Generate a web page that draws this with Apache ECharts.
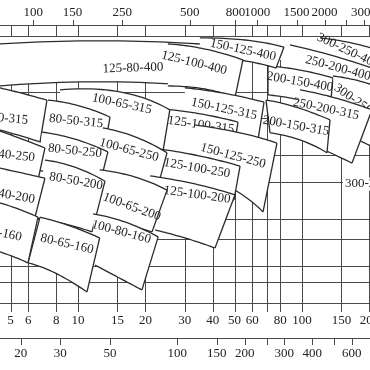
<!DOCTYPE html>
<html><head><meta charset="utf-8">
<script src="https://cdn.jsdelivr.net/npm/echarts@6/dist/echarts.min.js"></script>
<style>html,body{margin:0;padding:0;background:#fff}#c{width:370px;height:370px}</style>
</head><body><div id="c"></div>
<script>
// ---- axes data (flow in L/s, head in m) ----
const flowGrid   = [5,6,8,10,15,20,30,40,50,60,70,80,100,150,200];
const flowLabels = [5,6,8,10,15,20,30,40,50,60,80,100,150,200];
const headGrid   = [4,5,6,8,10,15,20,30,40];
const gpmTicks   = [100,150,250,500,800,1000,1500,2000,2500,3000];
const gpmLabels  = [100,150,250,500,800,1000,1500,2000,3000];
const m3hTicks   = [20,30,50,100,150,200,250,300,400,500,600];
const m3hLabels  = [20,30,50,100,150,200,300,400,600];
const GPM_PER_LS = 15.85;
const M3H_PER_LS = 3.6;

// ---- pump operating regions (draw order = array order) ----
const pumpNames = [
  '125-80-400','300-250-400','250-200-400','200-150-400','150-125-400','125-100-400',
  '300-250-315','250-200-315','200-150-315','150-125-315','125-100-315','100-65-315','80-50-315','65-40-315',
  '150-125-250','125-100-250','100-65-250','80-50-250','65-40-250',
  '125-100-200','100-65-200','80-50-200','65-40-200',
  '100-80-160','80-65-160','65-50-160'
];
// full-impeller curve: [left, middle, right] as [Q L/s, H m]
const topCurve = [
  [[2.97,65.3],[10.2,69.8],[35.0,67.5]],
  [[120.3,72.1],[181.5,66.8],[274,57.9]],
  [[88.4,66.8],[133.4,59.9],[211.8,51.4]],
  [[70.5,53.1],[98.0,50.8],[137.5,46.6]],
  [[35.0,72.1],[55.7,70.5],[83.1,65.3]],
  [[25.2,67.5],[36.9,63.9],[54.5,56.7]],
  [[137.5,47.6],[201.2,43.6],[303,36.6]],
  [[98.0,40.9],[140.4,37.5],[205.4,32.9]],
  [[69.1,36.6],[93.1,34.0],[133.4,29.5]],
  [[30.0,41.8],[43.9,39.6],[67.7,35.8]],
  [[21.0,33.6],[33.3,31.8],[51.8,28.8]],
  [[8.31,40.9],[15.4,40.0],[25.7,32.9]],
  [[7.35,36.6],[10.2,34.3],[13.9,30.4]],
  [[2.97,45.6],[4.49,41.8],[7.27,36.6]],
  [[33.3,27.9],[52.9,25.6],[77.3,22.9]],
  [[21.0,21.7],[33.3,20.1],[52.9,17.8]],
  [[12.9,27.0],[18.0,24.5],[24.97,20.6]],
  [[6.91,25.8],[9.69,23.9],[13.6,20.8]],
  [[2.97,30.1],[4.49,26.1],[7.12,21.7]],
  [[21.0,16.0],[33.3,14.65],[50.2,13.0]],
  [[12.5,17.1],[18.0,15.8],[24.97,13.7]],
  [[7.12,19.0],[9.69,17.6],[13.2,15.1]],
  [[2.97,19.0],[4.49,17.4],[7.12,15.6]],
  [[11.67,10.56],[16.2,9.68],[22.8,8.22]],
  [[6.77,10.2],[9.21,9.27],[12.5,8.13]],
  [[2.97,13.0],[4.49,11.9],[6.63,10.2]]
];
// trimmed-impeller curve: [left, middle, right]
const bottomCurve = [
  [[2.97,40.9],[10.2,44.6],[35.0,42.7]],
  [[120.3,45.6],[181.5,40.9],[274,36.6]],
  [[88.4,40.9],[147.8,36.6],[211.8,32.1]],
  [[70.5,38.7],[98.0,36.6],[133.4,32.9]],
  [[35.0,59.2],[52.9,56.7],[76.6,51.9]],
  [[25.2,42.7],[36.9,41.3],[50.2,37.5]],
  [[147.8,26.4],[223,21.2],[336,18.0]],
  [[88.4,25.0],[120.3,21.7],[167.2,18.4]],
  [[72.0,25.6],[98.0,23.7],[129.3,20.6]],
  [[30.0,26.4],[45.3,25.0],[63.6,23.7]],
  [[21.0,21.2],[33.3,19.9],[48.7,19.0]],
  [[8.31,25.0],[15.4,22.9],[24.0,21.2]],
  [[6.77,23.2],[9.40,21.2],[12.8,18.6]],
  [[2.97,29.5],[4.49,26.4],[6.77,23.2]],
  [[35.0,16.2],[50.2,13.7],[67.0,10.8]],
  [[22.1,14.5],[34.0,13.4],[49.7,12.3]],
  [[12.5,17.1],[17.1,15.3],[22.5,13.7]],
  [[6.63,17.1],[9.21,15.6],[12.5,14.5]],
  [[2.97,19.0],[4.49,17.1],[6.63,15.3]],
  [[22.1,8.87],[30.0,8.13],[40.9,7.29]],
  [[11.67,10.56],[15.4,9.68],[21.4,8.68]],
  [[6.43,10.1],[8.75,9.47],[11.55,8.68]],
  [[2.97,11.65],[4.49,10.56],[6.30,9.37]],
  [[11.9,6.05],[15.0,5.31],[19.3,4.61]],
  [[5.98,6.19],[7.90,5.55],[10.97,4.51]],
  [[2.97,7.95],[4.49,6.98],[5.98,6.19]]
];
const labelAt = [
  [17.6,51.9],[160.5,62.6],[144.8,51.9],[98.0,44.6],[54.5,63.2],[33.0,54.9],
  [187.2,34.3],[128.0,33.2],[94.0,27.6],[44.9,33.2],[35.4,27.9],[15.7,35.1],[9.80,29.1],[4.53,30.1],
  [49.2,19.9],[34.0,17.4],[16.9,21.2],[9.69,21.0],[4.87,20.1],
  [34.0,13.0],[17.4,11.4],[9.80,15.1],[4.87,13.0],
  [15.6,8.68],[8.93,7.61],[4.26,8.68]
];
const labelRot = [
  2,-25,-15,-10,-12,-14,
  -35,-12,-10,-12,-8,-12,-6,-5,
  -15,-10,-15,-6,-6,
  -8,-20,-10,-10,
  -15,-13,-12
];
const edges = [
  'TB','TB','TB','TRBL','TRB','TRB',
  'TB','TRB','TRBL','TRB','TRB','TRB','TRB','TRB',
  'TRB','TRB','TRB','TRB','TRB',
  'TRB','TRB','TRB','TRB',
  'TRB','TRBL','TRB'
];
const sideNames = ['300-250-250'];
const sideAt = [[152.4,14.65]];

const FONT = '13px "Liberation Serif", "DejaVu Serif", serif';
const INK = '#222';

function quadPts(a,b,c,n){
  const out=[];
  for(let k=0;k<=n;k++){
    const t=k/n, w0=(1-t)*(1-2*t), w1=4*t*(1-t), w2=t*(2*t-1);
    out.push([a[0]*w0+b[0]*w1+c[0]*w2, a[1]*w0+b[1]*w1+c[1]*w2]);
  }
  return out;
}

const chart = echarts.init(document.getElementById('c'), null, {renderer:'canvas'});
const option = {
  animation:false,
  backgroundColor:'#fff',
  grid:{left:0,right:0,top:0,bottom:0},
  xAxis:{type:'log',min:4.486,max:201.2,show:false,splitLine:{show:false}},
  yAxis:{type:'log',min:1.924,max:109.1,show:false,splitLine:{show:false}},
  series:[
    { // grid, scales and tick labels
      type:'custom', data:[[10,10]], silent:true,
      renderItem(params, api){
        const W = api.getWidth();
        const ch = [];
        const gl = {stroke:'#4a4a4a', lineWidth:1, fill:null};
        headGrid.forEach(h=>{
          const y = Math.round(api.coord([10,h])[1])+0.5;
          ch.push({type:'line',shape:{x1:0,y1:y,x2:W,y2:y},style:gl});
        });
        flowGrid.forEach(q=>{
          const x = Math.round(api.coord([q,10])[0])+0.5;
          ch.push({type:'line',shape:{x1:x,y1:60,x2:x,y2:312},style:gl});
          ch.push({type:'line',shape:{x1:x,y1:25,x2:x,y2:36},style:gl});
        });
        ch.push({type:'line',shape:{x1:0,y1:25.5,x2:W,y2:25.5},style:gl});
        ch.push({type:'line',shape:{x1:0,y1:36.5,x2:W,y2:36.5},style:gl});
        gpmTicks.forEach(g=>{
          const x = Math.round(api.coord([g/GPM_PER_LS,10])[0])+0.5;
          ch.push({type:'line',shape:{x1:x,y1:20,x2:x,y2:25},style:gl});
        });
        gpmLabels.forEach(g=>{
          const x = api.coord([g/GPM_PER_LS,10])[0];
          ch.push({type:'text',x:x,y:13,style:{text:String(g),fill:INK,font:FONT,align:'center',verticalAlign:'middle'}});
        });
        flowLabels.forEach(q=>{
          const x = api.coord([q,10])[0];
          ch.push({type:'text',x:x,y:321,style:{text:String(q),fill:INK,font:FONT,align:'center',verticalAlign:'middle'}});
        });
        ch.push({type:'line',shape:{x1:0,y1:338.5,x2:W,y2:338.5},style:gl});
        m3hTicks.forEach(m=>{
          const x = Math.round(api.coord([m/M3H_PER_LS,10])[0])+0.5;
          ch.push({type:'line',shape:{x1:x,y1:338,x2:x,y2:345},style:gl});
        });
        m3hLabels.forEach(m=>{
          const x = api.coord([m/M3H_PER_LS,10])[0];
          ch.push({type:'text',x:x,y:354,style:{text:String(m),fill:INK,font:FONT,align:'center',verticalAlign:'middle'}});
        });
        return {type:'group',children:ch};
      }
    },
    { // pump regions
      type:'custom', data:labelAt, silent:true,
      renderItem(params, api){
        const i = params.dataIndex;
        const tp = topCurve[i].map(p=>api.coord(p));
        const bp = bottomCurve[i].map(p=>api.coord(p));
        const top = quadPts(tp[0],tp[1],tp[2],24);
        const bot = quadPts(bp[0],bp[1],bp[2],24);
        const poly = top.concat(bot.slice().reverse());
        const ls = {stroke:'#2b2b2b', lineWidth:1.3, fill:null};
        const ch = [{type:'polygon',shape:{points:poly},style:{fill:'#fff',stroke:null}}];
        const e = edges[i];
        if(e.includes('T')) ch.push({type:'polyline',shape:{points:top},style:ls});
        if(e.includes('B')) ch.push({type:'polyline',shape:{points:bot},style:ls});
        if(e.includes('R')) ch.push({type:'line',shape:{x1:top[top.length-1][0],y1:top[top.length-1][1],x2:bot[bot.length-1][0],y2:bot[bot.length-1][1]},style:ls});
        if(e.includes('L')) ch.push({type:'line',shape:{x1:top[0][0],y1:top[0][1],x2:bot[0][0],y2:bot[0][1]},style:ls});
        const lp = api.coord(labelAt[i]);
        ch.push({type:'text',x:lp[0],y:lp[1],rotation:labelRot[i]*Math.PI/180,
          style:{text:pumpNames[i],fill:INK,font:FONT,align:'center',verticalAlign:'middle'}});
        return {type:'group',children:ch};
      }
    },
    { // label sitting on a grid line
      type:'custom', data:sideAt, silent:true,
      renderItem(params, api){
        const i = params.dataIndex;
        const p = api.coord(sideAt[i]);
        return {type:'text',x:p[0],y:p[1],style:{text:sideNames[i],fill:INK,font:FONT,align:'left',verticalAlign:'middle',backgroundColor:'#fff',padding:[0,0,0,2]}};
      }
    }
  ]
};
chart.setOption(option);
</script></body></html>
